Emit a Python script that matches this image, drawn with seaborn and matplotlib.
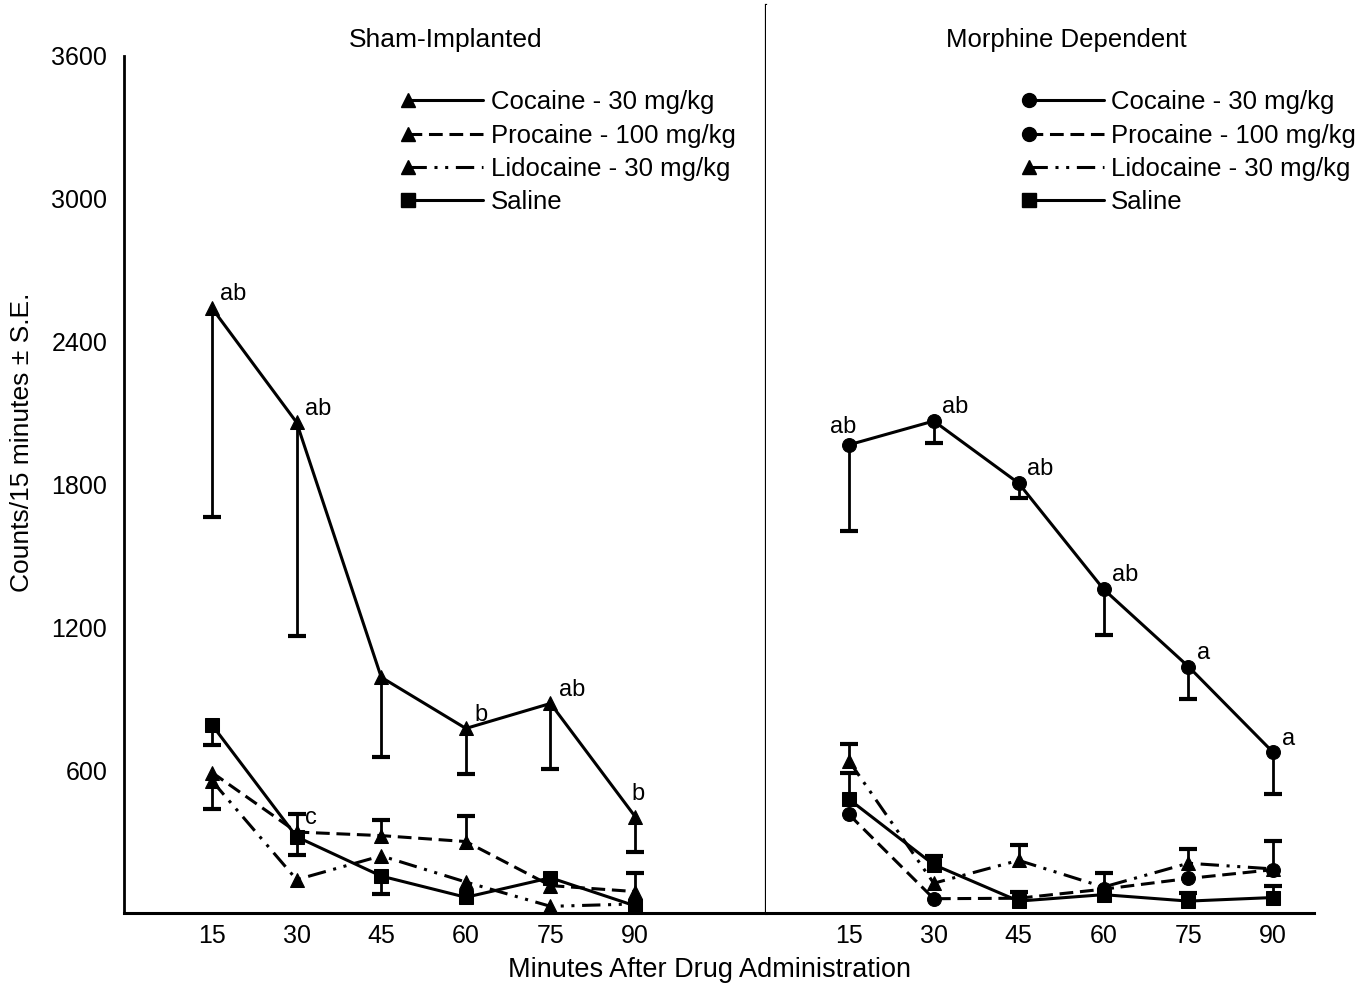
import numpy as np
import matplotlib as mpl
import matplotlib.pyplot as plt
import seaborn as sns
from matplotlib.lines import Line2D
from matplotlib.legend_handler import HandlerLine2DCompound

sns.set_style("white")
mpl.rcParams["font.family"] = ["Liberation Sans", "DejaVu Sans"]
mpl.rcParams["axes.edgecolor"] = "black"
mpl.rcParams["text.color"] = "black"
mpl.rcParams["xtick.color"] = "black"
mpl.rcParams["ytick.color"] = "black"

minutes = [15, 30, 45, 60, 75, 90]
drugs = ["Cocaine - 30 mg/kg", "Procaine - 100 mg/kg", "Lidocaine - 30 mg/kg", "Saline"]

# sham-implanted group
sham_cocaine = [2540, 2060, 990, 775, 880, 405]
sham_procaine = [590, 340, 325, 300, 115, 90]
sham_lidocaine = [555, 140, 240, 130, 28, 38]
sham_saline = [790, 320, 155, 66, 148, 30]
sham_cocaine_lo = [875, 895, 335, 190, 275, 150]
sham_procaine_hi = [0, 75, 65, 106, 0, 78]
sham_lidocaine_lo = [120, 0, 0, 0, 0, 0]
sham_saline_lo = [85, 75, 75, 0, 0, 0]
sham_cocaine_marks = ["ab", "ab", "", "b", "ab", "b"]
sham_procaine_marks = ["", "c", "", "", "", ""]

# morphine-dependent group
morph_cocaine = [1966, 2066, 1805, 1360, 1035, 674]
morph_procaine = [414, 60, 62, 100, 145, 182]
morph_lidocaine = [639, 125, 221, 109, 209, 185]
morph_saline = [478, 203, 50, 77, 50, 65]
morph_cocaine_lo = [360, 93, 63, 193, 136, 175]
morph_lidocaine_hi = [71, 0, 66, 61, 60, 116]
morph_saline_hi = [112, 35, 40, 0, 34, 50]
morph_cocaine_marks = ["ab", "ab", "ab", "ab", "a", "a"]

zeros = [0] * 6
dashed = (0, (4.5, 2.2))
dashdotdot = (0, (6, 2.5, 1, 2.5, 1, 2.5))
sham = [
    (sham_cocaine, sham_cocaine_lo, zeros, "^", "-"),
    (sham_procaine, zeros, sham_procaine_hi, "^", dashed),
    (sham_lidocaine, sham_lidocaine_lo, zeros, "^", dashdotdot),
    (sham_saline, sham_saline_lo, zeros, "s", "-"),
]
morph = [
    (morph_cocaine, morph_cocaine_lo, zeros, "o", "-"),
    (morph_procaine, zeros, zeros, "o", dashed),
    (morph_lidocaine, zeros, morph_lidocaine_hi, "^", dashdotdot),
    (morph_saline, zeros, morph_saline_hi, "s", "-"),
]


class LeftMarker(HandlerLine2DCompound):
    # marker at the start of the legend line, as in the printed figure
    def get_xdata(self, legend, xdescent, ydescent, width, height, fontsize):
        return np.array([-xdescent, -xdescent + width]), np.array([-xdescent])


fig = plt.figure(figsize=(13.67, 9.89), dpi=100)
ax1 = fig.add_axes([124 / 1367, 76 / 989, 642 / 1367, 908 / 989])
ax2 = fig.add_axes([766 / 1367, 76 / 989, 548 / 1367, 908 / 989])


def draw(ax, groups):
    x = np.array(minutes)
    handles = []
    for (vals, lo, hi, mk, ls), name in zip(groups, drugs):
        y = np.array(vals)
        lo = np.array(lo)
        hi = np.array(hi)
        ax.vlines(x, y - lo, y + hi, color="black", lw=2)
        ax.scatter(x[lo > 0], (y - lo)[lo > 0], marker="_", s=170, color="black", linewidths=3)
        ax.scatter(x[hi > 0], (y + hi)[hi > 0], marker="_", s=170, color="black", linewidths=3)
        sns.lineplot(x=x, y=y, ax=ax, color="black", lw=2.2, linestyle=ls,
                     marker=mk, markersize=10, markeredgecolor="black")
        handles.append(Line2D([], [], color="black", lw=2.2, linestyle=ls,
                              marker=mk, markersize=10, label=name))
    return handles


def label_points(ax, vals, marks, special=None):
    special = special or {}
    for xm, v, s in zip(minutes, vals, marks):
        if not s:
            continue
        dx, dy, ha = special.get(xm, (6, 2, "left"))
        ax.annotate(s, (xm, v), xytext=(dx, dy), textcoords="offset points",
                    ha=ha, va="bottom", fontsize=17)


h1 = draw(ax1, sham)
h2 = draw(ax2, morph)
label_points(ax1, sham_cocaine, sham_cocaine_marks, {90: (2, 8, "center")})
label_points(ax1, sham_procaine, sham_procaine_marks)
label_points(ax2, morph_cocaine, morph_cocaine_marks, {15: (-4, 5, "center")})

for ax, (x0, x1) in [(ax1, (-0.6, 113.2)), (ax2, (0.35, 97.2))]:
    ax.set_xlim(x0, x1)
    ax.set_ylim(0, 3813)
    ax.set_xticks(minutes)
    ax.set_xticklabels([str(m) for m in minutes])
    ax.tick_params(axis="x", direction="in", length=11, width=1.5, pad=8, labelsize=18)
    ax.spines["top"].set_visible(False)
    ax.spines["bottom"].set_linewidth(2.2)
    ax.set_xlabel("")
    ax.set_ylabel("")

ax1.set_yticks([600, 1200, 1800, 2400, 3000, 3600])
ax1.tick_params(axis="y", direction="in", length=10, width=2, pad=12, labelsize=18)
ax1.spines["left"].set_bounds(0, 3600)
ax1.spines["left"].set_linewidth(2)
ax1.spines["right"].set_linewidth(1.6)
ax2.set_yticks([])
ax2.spines["left"].set_visible(False)
ax2.spines["right"].set_visible(False)

for ax, hs, xa in [(ax1, h1, 0.443), (ax2, h2, 0.48)]:
    ax.legend(handles=hs, loc="upper left", bbox_to_anchor=(xa, 0.906), frameon=False,
              fontsize=18.5, handlelength=2.9, handletextpad=0.3, labelspacing=0.36,
              borderpad=0, borderaxespad=0, handler_map={Line2D: LeftMarker()})

fig.text(446 / 1367, 1 - 40 / 989, "Sham-Implanted", ha="center", va="center", fontsize=19)
fig.text(1066 / 1367, 1 - 40 / 989, "Morphine Dependent", ha="center", va="center", fontsize=18.5)
fig.text(710 / 1367, 1 - 970 / 989, "Minutes After Drug Administration",
         ha="center", va="center", fontsize=19.5)
fig.text(22 / 1367, 1 - 442 / 989, "Counts/15 minutes ± S.E.", rotation=90,
         ha="center", va="center", fontsize=19)

fig.savefig("out.png", dpi=100)
